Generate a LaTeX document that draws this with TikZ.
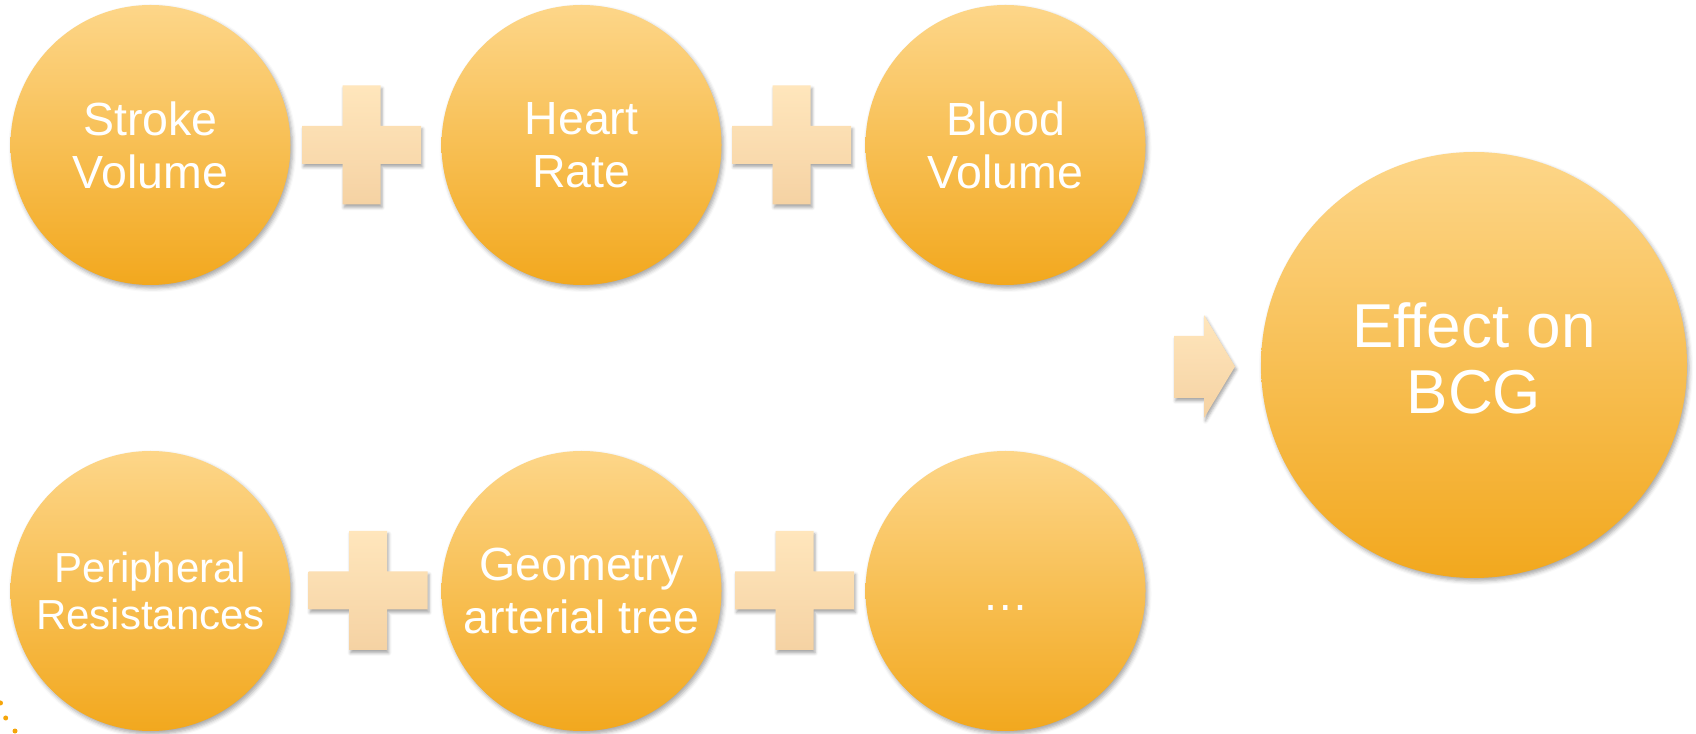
\documentclass[tikz,border=0pt]{standalone}
\usepackage{fontspec}
\setmainfont{Liberation Sans}
\usetikzlibrary{shadows.blur}
\definecolor{ctop}{RGB}{253,214,137}
\definecolor{cmid}{RGB}{251,204,112}
\definecolor{cbot}{RGB}{242,168,30}
\definecolor{ptop}{RGB}{255,230,188}
\definecolor{pbot}{RGB}{245,210,163}
\definecolor{dotc}{RGB}{245,165,10}
\tikzset{
  ball/.style={circle, inner sep=0pt, minimum size=280pt, text=white, align=center,
    top color=ctop, middle color=cmid, bottom color=cbot,
    blur shadow={shadow xshift=2pt, shadow yshift=-3pt, shadow blur radius=4pt, shadow opacity=35},
    font=\fontsize{46.5}{53}\selectfont},
  bigball/.style={ball, minimum size=426pt},
  balltext/.style={text=white, align=center, inner sep=0pt},
  plusfill/.style={top color=ptop, bottom color=pbot,
    blur shadow={shadow xshift=1.5pt, shadow yshift=-3pt, shadow blur radius=3pt, shadow opacity=35}},
  pics/plussign/.style={code={
    \path[plusfill] (-19,59.5) -- (19,59.5) -- (19,19) -- (59.5,19) -- (59.5,-19) -- (19,-19)
      -- (19,-59.5) -- (-19,-59.5) -- (-19,-19) -- (-59.5,-19) -- (-59.5,19) -- (-19,19) -- cycle;
  }}
}
\begin{document}
\begin{tikzpicture}[x=1pt,y=1pt]
\useasboundingbox (0,0) rectangle (1696,733);
% top row
\node[ball] (sv) at (150.5,588) {Stroke\\Volume};
\node[ball] (hr) at (581.5,588) {Heart\\Rate};
\node[ball] (bv) at (1005.5,588) {Blood\\Volume};
% bottom row
\node[ball, font=\fontsize{42}{47}\selectfont] (pr) at (150.5,142) {Peripheral\\Resistances};
\node[ball] (ga) at (581.5,142) {Geometry\\arterial tree};
\node[ball] (etc) at (1005.5,142) {};
\node[balltext, font=\fontsize{46.5}{53}\selectfont, anchor=base] (etct) at (1005.5,122) {…};
% result
\node[bigball] (bcg) at (1474,368) {};
\node[balltext, font=\fontsize{62}{66}\selectfont] (bcgt) at (1474,375) {Effect on\\BCG};
% plus signs
\pic (p1) at (361.5,588) {plussign};
\pic (p2) at (791.7,588) {plussign};
\pic (p3) at (368,142.5) {plussign};
\pic (p4) at (794.5,142.5) {plussign};
% arrow
\path[plusfill] (1174,397) -- (1204,397) -- (1204,418) -- (1235,366.5) -- (1204,315)
  -- (1204,335) -- (1174,335) -- cycle;
% stray dots bottom-left
\fill[dotc] (0.5,30) circle (2.5);
\fill[dotc] (5.7,15) circle (2.5);
\fill[dotc] (15,2) circle (2.5);
\end{tikzpicture}
\end{document}
